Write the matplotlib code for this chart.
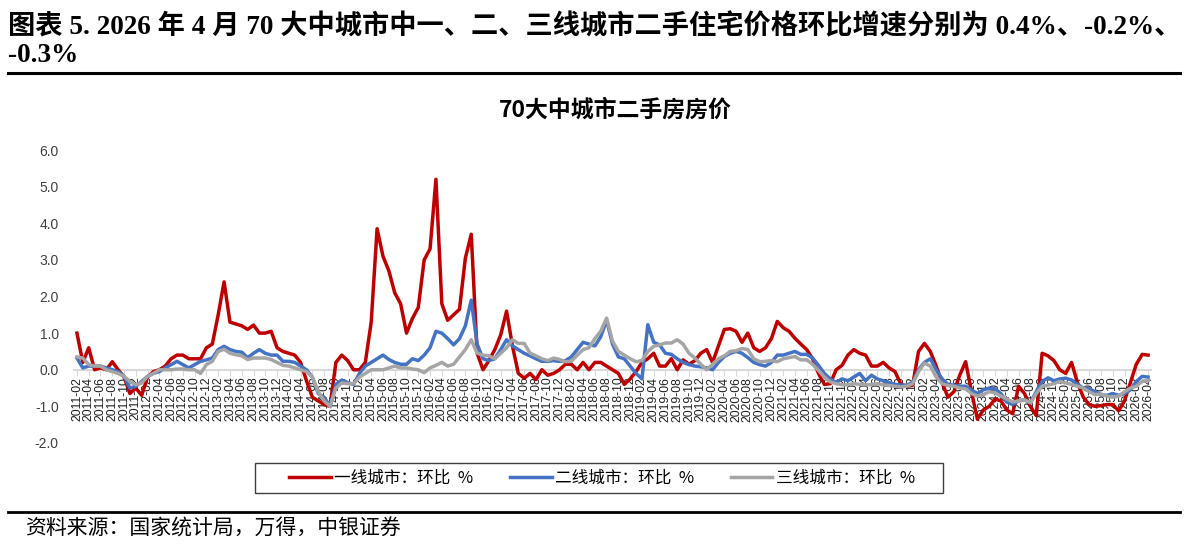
import numpy as np
import pandas as pd
import matplotlib
matplotlib.use('Agg')
from matplotlib import pyplot as plt
from matplotlib.lines import Line2D
from matplotlib.patches import Rectangle

plt.rcParams['axes.unicode_minus'] = False

# monthly data, 2011-02 .. 2026-04
months = pd.period_range('2011-02', '2026-04', freq='M').strftime('%Y-%m').tolist()

tier1 = [1.0, 0.2, 0.6, 0.0, 0.05, 0.0, 0.22, 0.0, -0.2, -0.65,
         -0.5, -0.7, -0.2, -0.05, 0.0, 0.1, 0.3, 0.4, 0.4, 0.3,
         0.3, 0.3, 0.6, 0.7, 1.5, 2.4, 1.3, 1.25, 1.2, 1.1,
         1.22, 1.0, 1.0, 1.05, 0.6, 0.5, 0.45, 0.4, 0.2, -0.3,
         -0.75, -0.85, -0.95, -1.0, 0.2, 0.4, 0.25, 0.0, 0.0, 0.2,
         1.3, 3.85, 3.1, 2.7, 2.1, 1.8, 1.0, 1.4, 1.7, 3.0,
         3.3, 5.2, 1.8, 1.35, 1.5, 1.65, 3.05, 3.7, 0.45, 0.0,
         0.25, 0.55, 0.95, 1.6, 0.65, -0.1, -0.23, -0.1, -0.27, 0.0,
         -0.15, -0.1, 0.0, 0.15, 0.15, 0.0, 0.2, 0.0, 0.2, 0.2,
         0.1, 0.0, -0.1, -0.4, -0.25, -0.05, 0.2, 0.3, 0.45, 0.1,
         0.1, 0.3, 0.0, 0.27, 0.15, 0.25, 0.45, 0.55, 0.2, 0.65,
         1.1, 1.12, 1.05, 0.75, 1.0, 0.6, 0.5, 0.6, 0.85, 1.32,
         1.15, 1.05, 0.86, 0.7, 0.55, 0.3, -0.1, -0.4, -0.38, 0.0,
         0.12, 0.4, 0.55, 0.45, 0.4, 0.1, 0.1, 0.2, 0.05, -0.05,
         -0.4, -0.45, -0.42, 0.5, 0.72, 0.5, 0.1, -0.35, -0.75, -0.6,
         -0.15, 0.22, -0.6, -1.35, -1.1, -1.0, -0.8, -0.85, -1.1, -1.2,
         -0.45, -0.65, -1.0, -1.25, 0.45, 0.38, 0.25, 0.0, -0.1, 0.2,
         -0.35, -0.75, -0.95, -1.0, -0.98, -0.95, -0.95, -1.12, -0.85, -0.35,
         0.15, 0.42, 0.4]

tier2 = [0.32, 0.05, 0.1, 0.1, 0.1, 0.05, 0.0, -0.05, -0.18, -0.5,
         -0.45, -0.32, -0.18, -0.1, -0.05, 0.05, 0.14, 0.23, 0.14, 0.05,
         0.14, 0.23, 0.27, 0.32, 0.55, 0.64, 0.55, 0.5, 0.48, 0.33,
         0.45, 0.55, 0.45, 0.4, 0.4, 0.23, 0.23, 0.2, 0.1, 0.0,
         -0.2, -0.65, -0.75, -1.0, -0.4, -0.28, -0.35, -0.4, -0.1, 0.1,
         0.2, 0.3, 0.4, 0.28, 0.2, 0.15, 0.15, 0.3, 0.25, 0.4,
         0.6, 1.05, 1.0, 0.85, 0.68, 0.85, 1.2, 1.9, 0.7, 0.3,
         0.25, 0.3, 0.55, 0.82, 0.65, 0.55, 0.45, 0.38, 0.3, 0.23,
         0.23, 0.25, 0.23, 0.25, 0.35, 0.55, 0.75, 0.7, 0.65, 0.9,
         1.35, 0.7, 0.35, 0.3, 0.1, -0.1, -0.25, 1.23, 0.75, 0.68,
         0.45, 0.42, 0.3, 0.2, 0.14, 0.1, 0.08, 0.05, 0.0, 0.2,
         0.36, 0.45, 0.5, 0.45, 0.33, 0.2, 0.14, 0.1, 0.2, 0.4,
         0.4, 0.45, 0.5, 0.42, 0.42, 0.32, 0.12, -0.1, -0.25, -0.35,
         -0.25, -0.3, -0.2, -0.1, -0.3, -0.15, -0.25, -0.3, -0.35, -0.4,
         -0.42, -0.42, -0.35, 0.0, 0.2, 0.3, 0.0, -0.25, -0.4, -0.42,
         -0.45, -0.45, -0.55, -0.65, -0.55, -0.5, -0.52, -0.65, -0.88, -0.95,
         -0.85, -0.82, -0.9, -0.6, -0.32, -0.22, -0.3, -0.25, -0.23, -0.28,
         -0.4, -0.5, -0.52, -0.6, -0.68, -0.7, -0.65, -0.7, -0.65, -0.55,
         -0.32, -0.18, -0.2]

tier3 = [0.35, 0.32, 0.14, 0.1, 0.1, 0.0, -0.05, -0.1, -0.18, -0.32,
         -0.41, -0.36, -0.18, -0.1, 0.0, 0.0, 0.0, 0.02, 0.02, 0.0,
         0.0, -0.1, 0.14, 0.23, 0.5, 0.56, 0.45, 0.41, 0.38, 0.28,
         0.32, 0.32, 0.32, 0.28, 0.2, 0.12, 0.1, 0.05, 0.0, -0.05,
         -0.2, -0.6, -0.85, -1.0, -0.5, -0.36, -0.38, -0.38, -0.2, -0.1,
         0.0, 0.0, 0.0, 0.05, 0.1, 0.05, 0.05, 0.02, 0.0, -0.08,
         0.05, 0.12, 0.2, 0.1, 0.15, 0.35, 0.55, 0.82, 0.45, 0.4,
         0.38, 0.3, 0.45, 0.6, 0.82, 0.72, 0.72, 0.45, 0.38, 0.3,
         0.25, 0.32, 0.28, 0.22, 0.23, 0.4, 0.55, 0.6, 0.85, 1.05,
         1.41, 0.78, 0.5, 0.4, 0.3, 0.22, 0.25, 0.5, 0.64, 0.68,
         0.73, 0.73, 0.82, 0.7, 0.45, 0.32, 0.15, 0.0, 0.15, 0.3,
         0.38, 0.5, 0.52, 0.58, 0.55, 0.3, 0.22, 0.23, 0.25, 0.22,
         0.3, 0.33, 0.36, 0.27, 0.27, 0.15, -0.02, -0.2, -0.33, -0.38,
         -0.41, -0.41, -0.38, -0.4, -0.41, -0.41, -0.38, -0.41, -0.43, -0.45,
         -0.47, -0.45, -0.38, -0.05, 0.18, 0.1, -0.2, -0.38, -0.43, -0.45,
         -0.5, -0.52, -0.65, -0.72, -0.68, -0.6, -0.63, -0.72, -0.8, -0.88,
         -0.85, -0.82, -0.9, -0.65, -0.45, -0.42, -0.38, -0.32, -0.36, -0.4,
         -0.45, -0.5, -0.6, -0.68, -0.66, -0.72, -0.75, -0.72, -0.6, -0.5,
         -0.45, -0.32, -0.3]

series_names = ['一线城市：环比  %', '二线城市：环比  %', '三线城市：环比  %']
series_colors = ['#C00000', '#4472C4', '#A5A5A5']

cjk = ['Noto Sans CJK SC', 'DejaVu Sans']
serif_cjk = ['Liberation Serif', 'Noto Sans CJK SC']

fig = plt.figure(figsize=(12, 5.49), dpi=100)
W, H = 1200, 549

# header
fig.text(8 / W, 1 - 27 / H,
         '图表 5. 2026 年 4 月 70 大中城市中一、二、三线城市二手住宅价格环比增速分别为 0.4%、-0.2%、',
         family=serif_cjk, fontsize=19.6, fontweight='bold', va='center', ha='left')
fig.text(8 / W, 1 - 56 / H, '-0.3%', family=serif_cjk, fontsize=19.6,
         fontweight='bold', va='center', ha='left')
fig.add_artist(Line2D([8 / W, 1180 / W], [1 - 73 / H] * 2, color='black', lw=2.2))

fig.text(615 / W, 1 - 110 / H, '70大中城市二手房房价', family=cjk, fontsize=16.5,
         fontweight='bold', ha='center', va='center')

# chart
ax = fig.add_axes([74 / W, 1 - 443 / H, 1077 / W, 293 / H])
for s in ['top', 'right', 'left']:
    ax.spines[s].set_visible(False)
ax.spines['bottom'].set_position(('data', 0))
ax.spines['bottom'].set_color('#D9D9D9')
ax.spines['bottom'].set_linewidth(1.5)
ax.spines['bottom'].set_zorder(1)

x = np.arange(len(months))
for vals, name, col in zip([tier1, tier2, tier3], series_names, series_colors):
    ax.plot(x, vals, color=col, lw=2.5, label=name, solid_joinstyle='round')

ax.set_xlim(-0.5, len(months) - 0.5)
ax.set_ylim(-2, 6)
yt = np.arange(-2, 7, 1)
ax.set_yticks(yt)
ax.set_yticklabels([f'{v:.1f}' for v in yt], family='Liberation Sans',
                   fontsize=10, color='#404040')
ax.tick_params(axis='y', length=0, pad=11)

ax.set_xticks(x[::2])
ax.set_xticklabels(months[::2], family='Liberation Sans', fontsize=8.8,
                   color='#202020')
ax.tick_params(axis='x', length=4, color='#D9D9D9', pad=1, labelrotation=90)

# legend
fig.add_artist(Rectangle((255 / W, 1 - 493 / H), 688 / W, 30 / H, transform=fig.transFigure,
                         fill=False, edgecolor='#404040', lw=1.0))
handles = [Line2D([], [], color=c, lw=2.5) for c in series_colors]
leg = fig.legend(handles, series_names, loc='center', ncol=3,
                 bbox_to_anchor=(602 / W, 1 - 478 / H),
                 prop=dict(family=cjk, size=12), frameon=False,
                 handlelength=2.5, handletextpad=0.2, columnspacing=2.2,
                 borderaxespad=0, borderpad=0)

# footer
fig.add_artist(Line2D([8 / W, 1180 / W], [1 - 512 / H] * 2, color='black', lw=2.0))
fig.text(25 / W, 1 - 529 / H, '资料来源：国家统计局，万得，中银证券', family=cjk,
         fontsize=15, style='italic', va='center', ha='left')

fig.savefig('out.png', dpi=100)
